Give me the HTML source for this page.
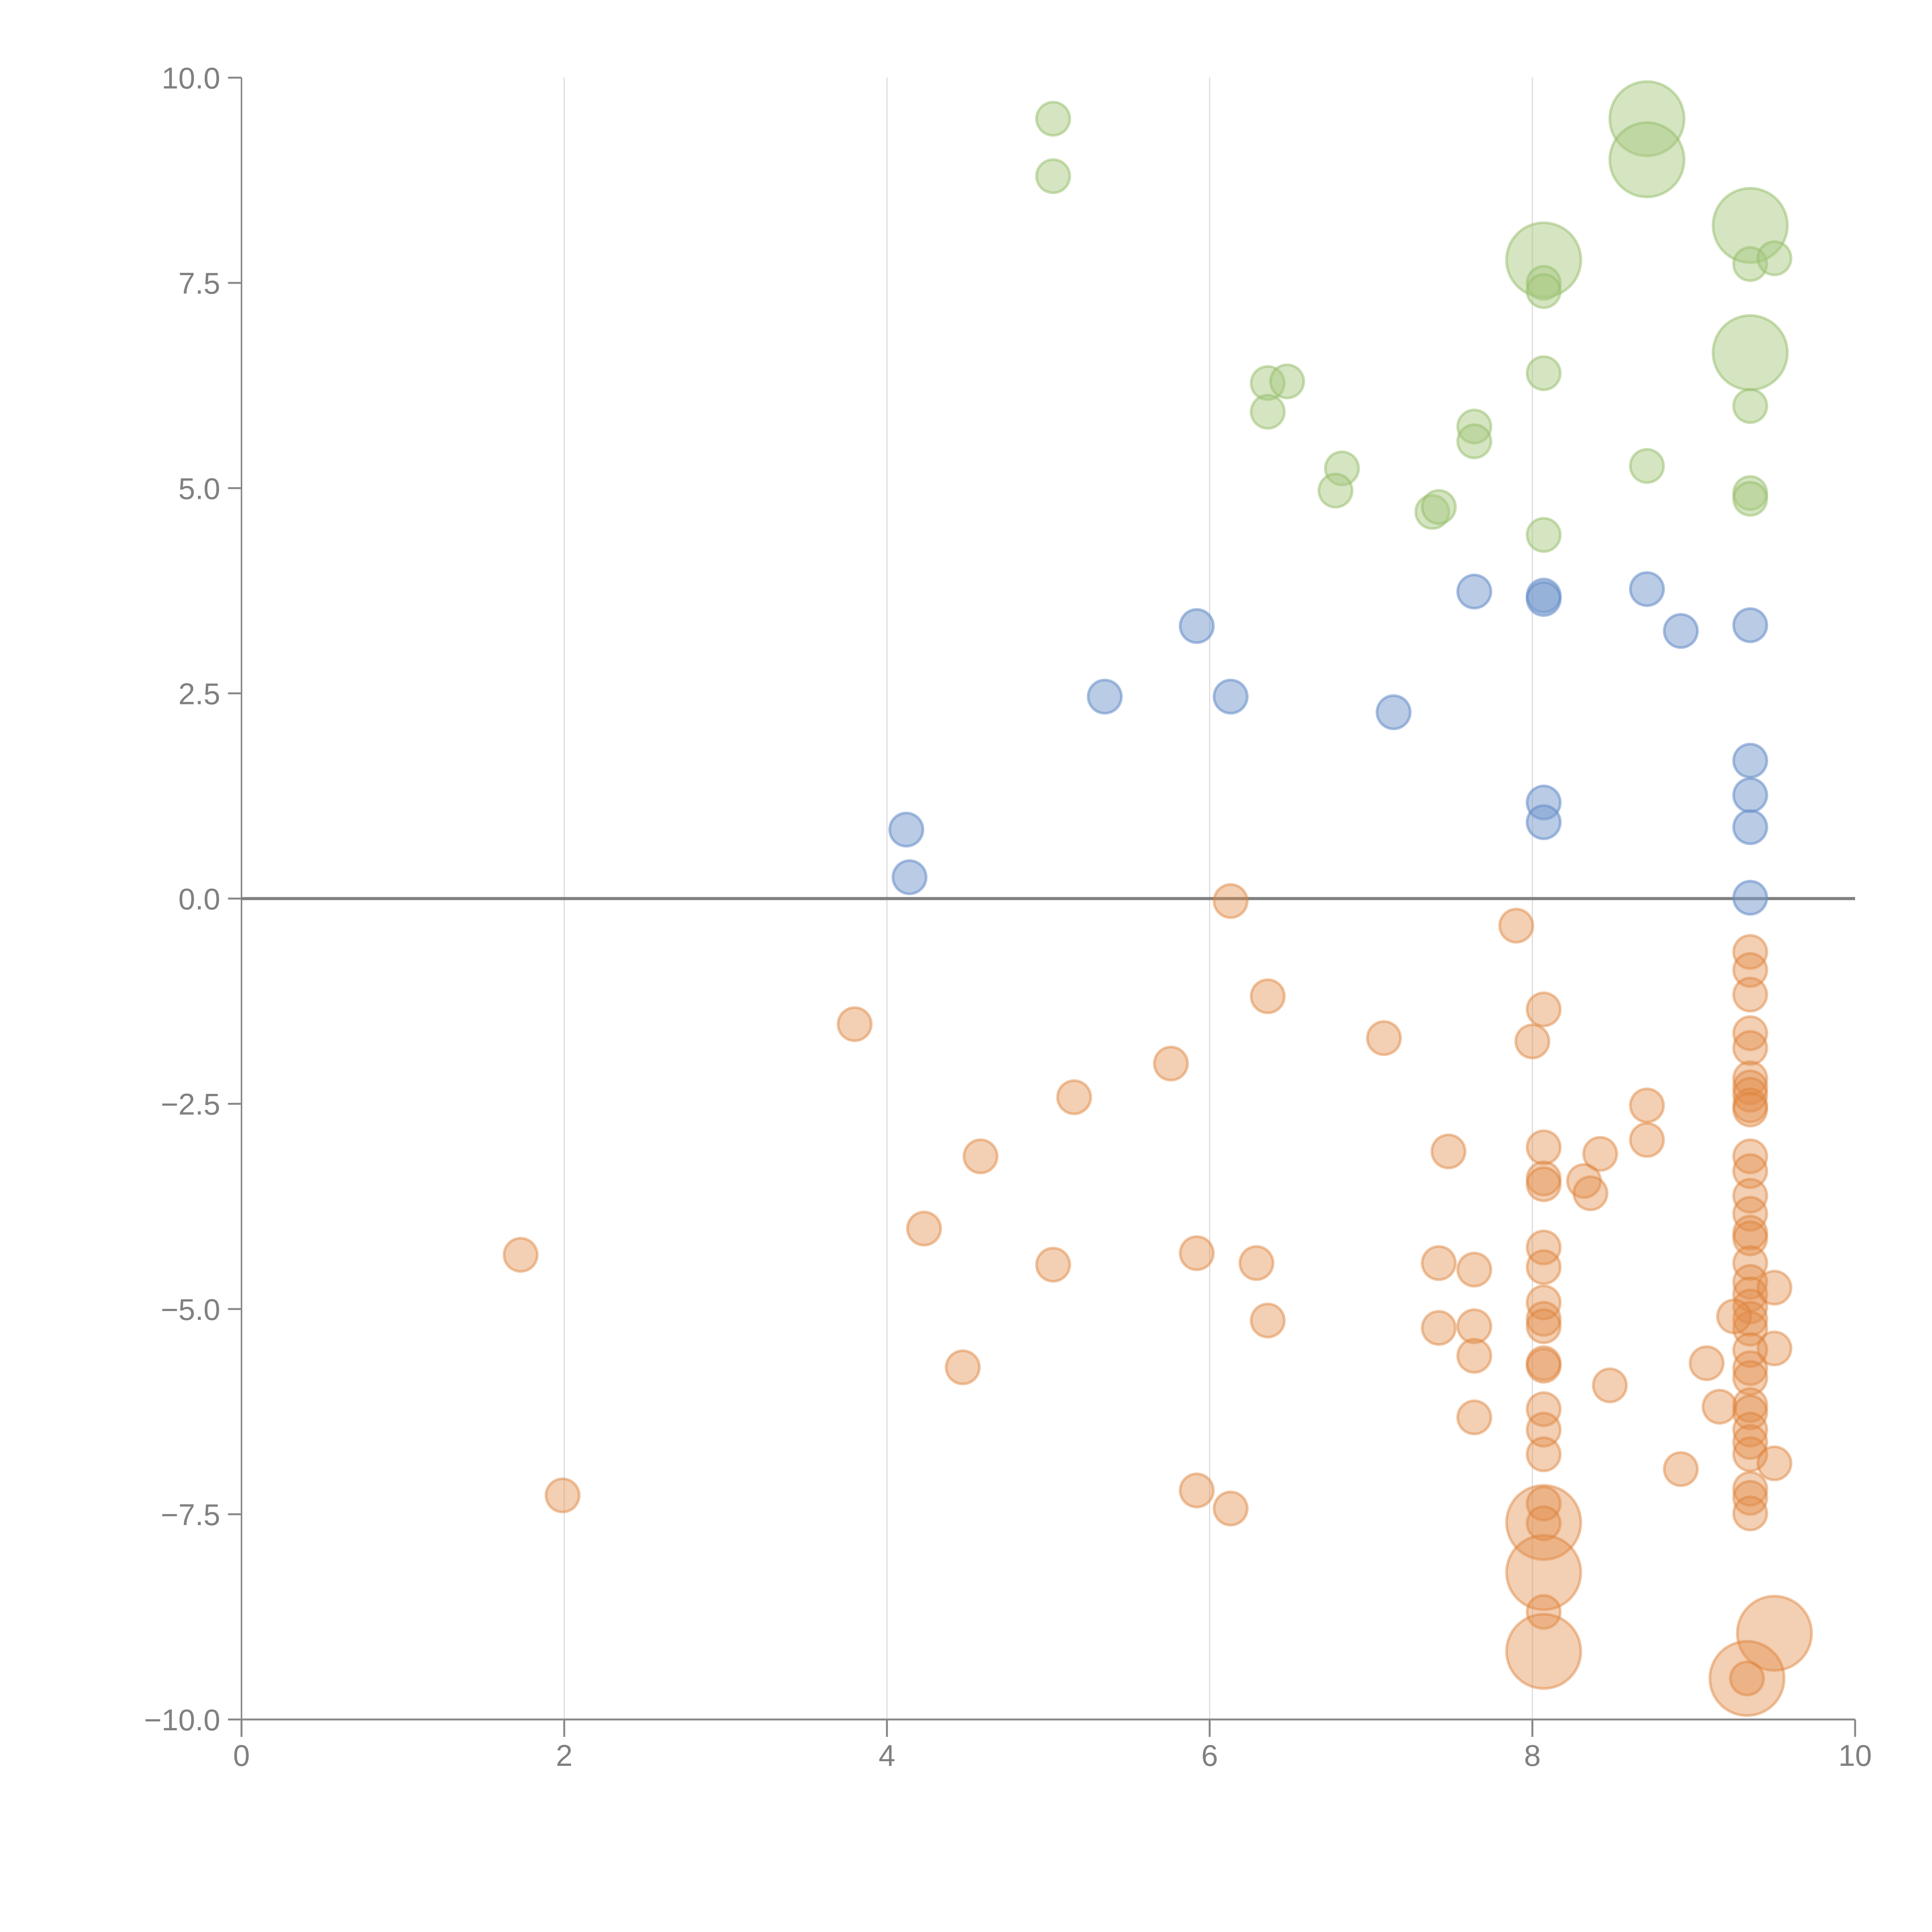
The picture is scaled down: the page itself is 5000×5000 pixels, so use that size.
<!DOCTYPE html>
<html><head><meta charset="utf-8"><style>
html,body{margin:0;padding:0;background:#fff;}
svg{display:block;font-family:"Liberation Sans",sans-serif;}
</style></head><body>
<svg id="chart" width="5000" height="5000" viewBox="0 0 5000 5000" xmlns="http://www.w3.org/2000/svg">
<g id="grid"></g>
<g id="axes"></g>
<g id="marks"></g>
</svg>
<script>
const xTicks=[0,2,4,6,8,10];
const yTicks=[10,7.5,5,2.5,0,-2.5,-5,-7.5,-10];
const greenX=[5.03,5.03,8.71,8.71,9.35,9.35,9.5,8.07,8.07,8.07,9.35,8.07,6.36,6.48,6.36,7.64,7.64,9.35,6.82,6.78,8.71,7.38,7.42,9.35,9.35,8.07];
const greenY=[9.5,8.8,9.5,9.0,8.2,7.73,7.8,7.78,7.5,7.4,6.65,6.4,6.28,6.3,5.93,5.75,5.57,6.0,5.24,4.97,5.27,4.71,4.77,4.94,4.87,4.43];
const greenS=[1,1,5,5,5,1,1,5,1,1,5,1,1,1,1,1,1,1,1,1,1,1,1,1,1,1];
const blueX=[7.64,8.07,8.07,8.71,8.92,9.35,5.92,5.35,6.13,7.14,9.35,9.35,8.07,8.07,9.35,4.12,4.14,9.35];
const blueY=[3.74,3.69,3.65,3.77,3.26,3.33,3.32,2.46,2.46,2.27,1.68,1.26,1.17,0.93,0.87,0.84,0.26,0.01];
const orangeX=[6.13,7.9,9.35,9.35,9.35,6.36,3.8,8.07,7.08,8.0,9.35,9.35,5.76,5.16,9.35,9.35,9.35,9.35,9.35,8.71,8.71,4.58,7.48,8.42,8.07,9.35,9.35,8.07,8.07,8.32,8.36,9.35,9.35,4.23,9.35,9.35,1.73,5.92,8.07,8.07,5.03,6.29,7.42,7.64,9.35,9.35,9.35,9.35,9.35,9.35,9.5,9.25,8.07,8.07,8.07,6.36,7.42,7.64,9.5,7.64,4.47,9.08,8.07,8.07,9.35,9.35,9.35,8.48,9.16,9.35,9.35,9.35,9.35,9.35,8.07,7.64,8.07,8.07,9.5,8.92,9.35,9.35,9.35,1.99,5.92,6.13,8.07,8.07,8.07,8.07,8.07,8.07,9.5,9.33,9.33];
const orangeY=[-0.03,-0.33,-0.65,-0.87,-1.17,-1.19,-1.53,-1.35,-1.7,-1.74,-1.64,-1.82,-2.01,-2.42,-2.19,-2.3,-2.39,-2.52,-2.57,-2.52,-2.94,-3.14,-3.08,-3.11,-3.03,-3.14,-3.32,-3.41,-3.48,-3.44,-3.59,-3.62,-3.84,-4.02,-4.07,-4.14,-4.34,-4.32,-4.25,-4.49,-4.46,-4.44,-4.44,-4.52,-4.44,-4.67,-4.82,-4.97,-5.12,-5.24,-4.74,-5.09,-4.92,-5.12,-5.21,-5.14,-5.23,-5.21,-5.48,-5.57,-5.71,-5.66,-5.66,-5.69,-5.5,-5.72,-5.84,-5.93,-6.19,-6.17,-6.26,-6.47,-6.62,-6.77,-6.22,-6.32,-6.47,-6.77,-6.88,-6.95,-7.19,-7.3,-7.49,-7.27,-7.21,-7.43,-7.6,-7.37,-7.61,-8.21,-8.69,-9.17,-8.95,-9.5,-9.5];
const orangeS=[1,1,1,1,1,1,1,1,1,1,1,1,1,1,1,1,1,1,1,1,1,1,1,1,1,1,1,1,1,1,1,1,1,1,1,1,1,1,1,1,1,1,1,1,1,1,1,1,1,1,1,1,1,1,1,1,1,1,1,1,1,1,1,1,1,1,1,1,1,1,1,1,1,1,1,1,1,1,1,1,1,1,1,1,1,1,5,1,1,5,1,5,5,5,1];

const NS="http://www.w3.org/2000/svg";
const X0=625,X1=4801,YT=201,YB=4450;
const sx=v=>X0+(v-0)/(10-0)*(X1-X0);
const sy=v=>YB-(v+10)/20*(YB-YT);
const rs=s=>43*Math.sqrt(s);
function mk(tag,attrs,parent){const e=document.createElementNS(NS,tag);for(const k in attrs)e.setAttribute(k,attrs[k]);parent.appendChild(e);return e;}
const grid=document.getElementById('grid'),axes=document.getElementById('axes'),marks=document.getElementById('marks');
const fmtY=v=>(v<0?'\u2212':'')+Math.abs(v).toFixed(1);

xTicks.forEach(t=>{
  if(t>0&&t<10){const g=mk('line',{x1:sx(t),x2:sx(t),y1:YT,y2:YB,stroke:'#dcdcdc','stroke-width':3},grid);
    
    }
  const tk=mk('line',{x1:sx(t),x2:sx(t),y1:YB,y2:YB+45,stroke:'#888','stroke-width':5},axes);
  
  
  const tx=mk('text',{x:sx(t),y:YB+120,'text-anchor':'middle','font-size':78,fill:'#808080'},axes);
  tx.textContent=String(t);
  
  
});
yTicks.forEach(t=>{
  const tk=mk('line',{x1:X0-35,x2:X0,y1:sy(t),y2:sy(t),stroke:'#888','stroke-width':5},axes);
  
  
  const tx=mk('text',{x:X0-55,y:sy(t)+28,'text-anchor':'end','font-size':78,fill:'#808080'},axes);
  tx.textContent=fmtY(t);
  
  
});
let a=mk('line',{x1:X0,x2:X0,y1:YT,y2:YB,stroke:'#888','stroke-width':4},axes);


a=mk('line',{x1:X0,x2:X1,y1:YB,y2:YB,stroke:'#888','stroke-width':5},axes);


a=mk('line',{x1:X0,x2:X1,y1:sy(0),y2:sy(0),stroke:'#808080','stroke-width':8},axes);



function series(xs,ys,ss,fill,stroke,name){
  xs.forEach((x,i)=>{
    const c=mk('circle',{cx:sx(x),cy:sy(ys[i]),r:rs(ss?ss[i]:1),fill:fill,stroke:stroke,'stroke-width':7},marks);
    
    
  });
}
series(greenX,greenY,greenS,'rgba(168,200,128,0.48)','rgba(150,190,105,0.5)','green-bubble');
series(blueX,blueY,null,'rgba(120,156,206,0.52)','rgba(100,140,200,0.55)','blue-bubble');
series(orangeX,orangeY,orangeS,'rgba(226,140,74,0.42)','rgba(222,128,55,0.45)','orange-bubble');
</script>
</body></html>
